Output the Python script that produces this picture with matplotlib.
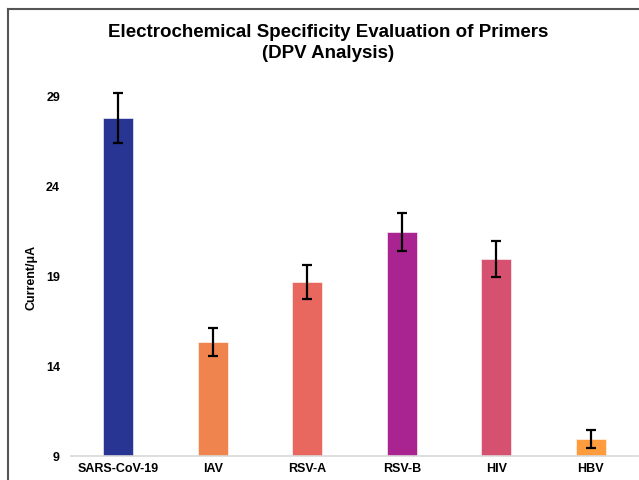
import matplotlib
matplotlib.use("Agg")
import matplotlib.pyplot as plt
from matplotlib.lines import Line2D

plt.rcParams["font.family"] = ["Liberation Sans", "DejaVu Sans"]

targets = ["SARS-CoV-19", "IAV", "RSV-A", "RSV-B", "HIV", "HBV"]
current = [27.78, 15.33, 18.67, 21.44, 19.94, 9.94]
error = [1.4, 0.78, 0.92, 1.05, 1.0, 0.5]
colors = ["#283593", "#F0844E", "#E8685F", "#A92490", "#D65070", "#FF9D3E"]
yticks = [9, 14, 19, 24, 29]

fig = plt.figure(figsize=(6.39, 4.81), dpi=100)
ax = fig.add_axes([71 / 639, 1 - 457 / 481, 567 / 639, (457 - 97) / 481])

x = range(len(targets))
ax.bar(x, [c - 9 for c in current], bottom=9, width=0.32, color=colors,
       edgecolor="white", linewidth=0.4, zorder=2)
ax.errorbar(x, current, yerr=error, fmt="none", ecolor="black",
            elinewidth=1.6, capsize=3.5, capthick=1.6, zorder=3, clip_on=False)

ax.set_xlim(-0.5, 5.5)
ax.set_ylim(9, 29)
ax.set_yticks(yticks)
ax.set_yticklabels([str(t) for t in yticks], fontsize=9, fontweight="bold")
ax.set_xticks(list(x))
ax.set_xticklabels(targets, fontsize=9, fontweight="bold")
ax.tick_params(axis="both", length=0)
ax.tick_params(axis="y", pad=8)
ax.tick_params(axis="x", pad=4)
for side in ["top", "right", "left"]:
    ax.spines[side].set_visible(False)
ax.spines["bottom"].set_color("#D9D9D9")
ax.spines["bottom"].set_linewidth(1.2)
ax.set_ylabel("Current/\u03bcA", fontsize=9, fontweight="bold")
ax.yaxis.set_label_coords(-(71 - 38) / 567, 0.5)

fig.text(328 / 639, 1 - 33 / 481, "Electrochemical Specificity Evaluation of Primers",
         ha="center", va="center", fontsize=13.5, fontweight="bold")
fig.text(328 / 639, 1 - 54 / 481, "(DPV Analysis)",
         ha="center", va="center", fontsize=13.5, fontweight="bold")

# outer frame (cropped: only top and left edges visible)
fig.add_artist(Line2D([8 / 639, 8 / 639], [0, 1 - 10 / 481], color="#555555", lw=1.5))
fig.add_artist(Line2D([8 / 639, 1], [1 - 10 / 481, 1 - 10 / 481], color="#555555", lw=1.5))

fig.savefig("out.png", dpi=100)
